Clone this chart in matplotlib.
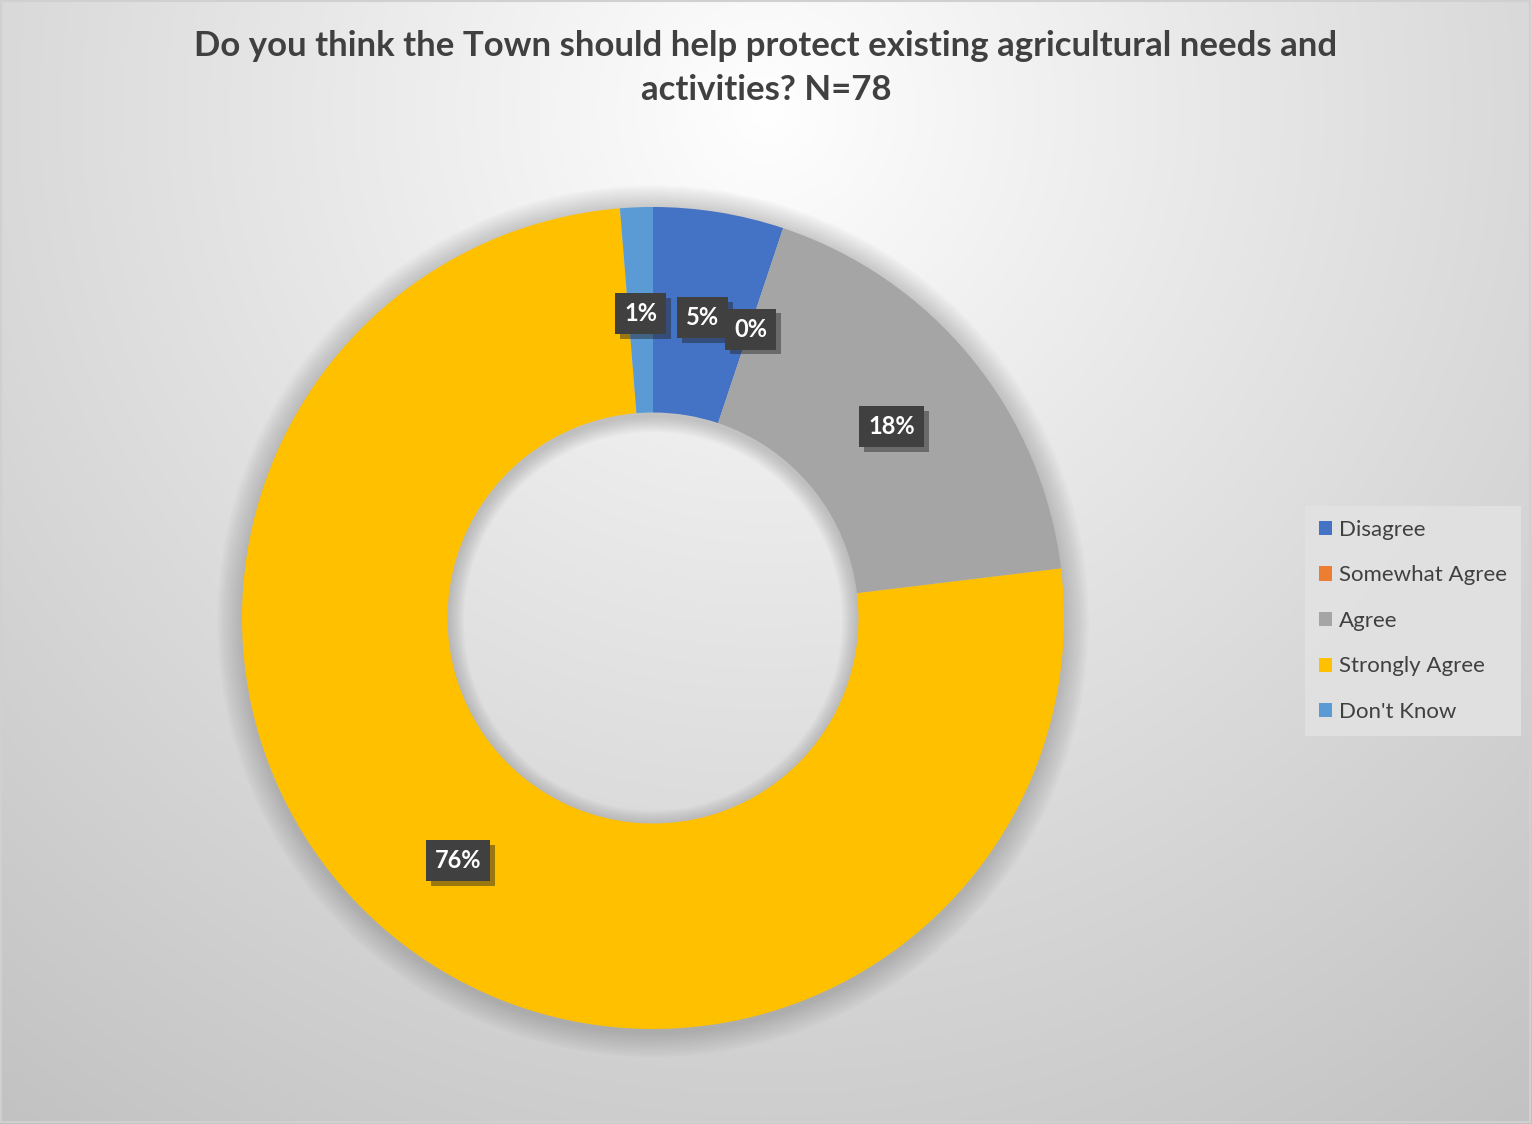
import numpy as np
import matplotlib
matplotlib.use("Agg")
import matplotlib.pyplot as plt
from matplotlib.patches import Wedge, Rectangle
import matplotlib.patheffects as pe

plt.rcParams['font.family'] = ['Lato', 'DejaVu Sans']

title = "Do you think the Town should help protect existing agricultural needs and\nactivities? N=78"
categories = ["Disagree", "Somewhat Agree", "Agree", "Strongly Agree", "Don't Know"]
counts = [4, 0, 14, 59, 1]
labels = ["5%", "0%", "18%", "76%", "1%"]
colors = ["#4472C4", "#ED7D31", "#A5A5A5", "#FFC000", "#5B9BD5"]

W, H = 1532, 1124
fig = plt.figure(figsize=(W / 100, H / 100), dpi=100)

# background radial gradient
bg = fig.add_axes([0, 0, 1, 1])
yy, xx = np.mgrid[0:H, 0:W]
d = np.hypot(xx - 766, yy - 110)
d = d / d.max()
val = 1.0 - 0.24 * d ** 0.95
bg.imshow(np.dstack([val, val, val]), extent=[0, W, H, 0], aspect='auto', zorder=0)
bg.add_patch(Rectangle((1, 1), W - 3, H - 3, fill=False, edgecolor="#d0d0d0", lw=1.5))
bg.set_xlim(0, W)
bg.set_ylim(H, 0)
bg.axis('off')

cx, cy, R = 653, 618, 411
ax = fig.add_axes([(cx - R) / W, (H - cy - R) / H, 2 * R / W, 2 * R / H])

# soft shadow
for i in range(12):
    t = i / 12
    ax.add_patch(Wedge((0.0, -0.008), 1.0 + 0.06 * (1 - t), 0, 360,
                       width=0.5 + 0.1 * (1 - t), facecolor='#6f6f6f',
                       alpha=0.03, lw=0, zorder=1, clip_on=False))

wedges, _ = ax.pie(counts, colors=colors, startangle=90, counterclock=False,
                   radius=1.0, wedgeprops=dict(width=0.5, linewidth=0, zorder=2))
ax.set_xlim(-1, 1)
ax.set_ylim(-1, 1)
ax.set_aspect('equal')
ax.axis('off')

total = sum(counts)
theta = 90.0
for cnt, lab in zip(counts, labels):
    span = 360.0 * cnt / total
    mid = np.deg2rad(theta - span / 2)
    x, y = 0.75 * np.cos(mid), 0.75 * np.sin(mid)
    theta -= span
    t = ax.annotate(lab, (x, y), xytext=(0, -2.5), textcoords='offset points',
                    ha='center', va='center', fontsize=17, fontweight='bold',
                    color='white', zorder=4,
                    bbox=dict(boxstyle='square,pad=0.38', facecolor='#404040', edgecolor='none'))
    t.get_bbox_patch().set_path_effects([
        pe.SimplePatchShadow(offset=(3.5, -3.5), shadow_rgbFace='#222222', alpha=0.45),
        pe.Normal()])

fig.text(0.5, 1 - 68 / H, title, ha='center', va='center', fontsize=25,
         fontweight='bold', color='#404040', linespacing=1.47)

handles = [Rectangle((0, 0), 1, 1, facecolor=c, edgecolor='none') for c in colors]
leg = fig.legend(handles, categories, loc='upper left',
                 bbox_to_anchor=(1305 / W, 1 - 506 / H), frameon=True,
                 fontsize=16, labelspacing=1.15, handlelength=0.6, handleheight=0.6,
                 handletextpad=0.3, borderpad=0.62, borderaxespad=0, fancybox=False)
leg.get_frame().set_facecolor('#e2e2e2')
leg.get_frame().set_edgecolor('none')
leg.get_frame().set_alpha(0.9)
for t in leg.get_texts():
    t.set_color('#404040')

fig.savefig('out.png', dpi=100)
